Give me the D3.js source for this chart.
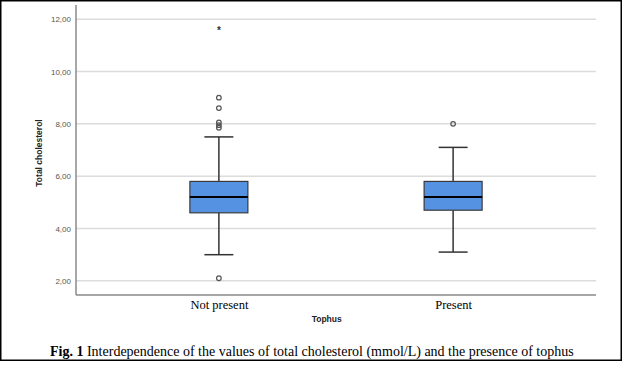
<!DOCTYPE html>
<html><head><meta charset="utf-8">
<script src="https://cdn.jsdelivr.net/npm/d3@7"></script>
<style>html,body{margin:0;padding:0;background:#fff;}</style>
</head><body>
<svg id="c" width="624" height="390"></svg>
<script>
const categories = ["Not present", "Present"];
const q1 = [4.6, 4.7];
const medians = [5.2, 5.2];
const q3 = [5.8, 5.8];
const whiskerLow = [3.0, 3.1];
const whiskerHigh = [7.5, 7.1];
const outliers = [[9.0, 8.6, 8.05, 7.95, 7.85, 2.1], [8.0]];
const extremes = [[11.6], []];
const yTicks = [2, 4, 6, 8, 10, 12];

const svg = d3.select("#c");
const L = 76, R = 596, T = 5, B = 295;
const y = d3.scaleLinear().domain([1.46, 12.54]).range([B, T]);
const x = d3.scalePoint().domain(categories).range([L, R]).padding(0.61);
const boxW = 58, capW = 29;

// outer frame
svg.append("rect").attr("x", 0.75).attr("y", 0.75).attr("width", 620.5).attr("height", 359.5)
  .attr("fill", "none").attr("stroke", "#000").attr("stroke-width", 1.5);

// gridlines
svg.append("g").selectAll("line").data(yTicks).join("line")
  .attr("x1", L).attr("x2", R).attr("y1", d => y(d)).attr("y2", d => y(d))
  .attr("stroke", "#dcdcdc").attr("stroke-width", 1.5);

// y axis
const yAxis = d3.axisLeft(y).tickValues(yTicks).tickSize(0).tickPadding(5)
  .tickFormat(d => d3.format(".2f")(d).replace(".", ","));
const ga = svg.append("g").attr("transform", `translate(${L},0)`).call(yAxis);
ga.select(".domain").remove();
ga.selectAll("text").attr("font-family", "Arial, 'Liberation Sans', sans-serif")
  .attr("font-size", 8).attr("fill", "#555");

// axis lines
svg.append("line").attr("x1", L).attr("x2", L).attr("y1", T).attr("y2", B)
  .attr("stroke", "#8a8a8a").attr("stroke-width", 1.5);
svg.append("line").attr("x1", L).attr("x2", R).attr("y1", B).attr("y2", B)
  .attr("stroke", "#8a8a8a").attr("stroke-width", 1.5);

// x axis labels
const xAxis = d3.axisBottom(x).tickSize(0).tickPadding(5);
const gx = svg.append("g").attr("transform", `translate(0,${B})`).call(xAxis);
gx.select(".domain").remove();
gx.selectAll("text").attr("font-family", "'Liberation Serif', 'Times New Roman', serif")
  .attr("font-size", 12.5).attr("fill", "#000");

// boxes
categories.forEach((c, i) => {
  const cx = x(c);
  const g = svg.append("g");
  g.append("line").attr("x1", cx).attr("x2", cx).attr("y1", y(whiskerHigh[i])).attr("y2", y(q3[i]))
    .attr("stroke", "#333").attr("stroke-width", 1.5);
  g.append("line").attr("x1", cx).attr("x2", cx).attr("y1", y(q1[i])).attr("y2", y(whiskerLow[i]))
    .attr("stroke", "#333").attr("stroke-width", 1.5);
  [whiskerHigh[i], whiskerLow[i]].forEach(v => {
    g.append("line").attr("x1", cx - capW / 2).attr("x2", cx + capW / 2).attr("y1", y(v)).attr("y2", y(v))
      .attr("stroke", "#333").attr("stroke-width", 1.5);
  });
  g.append("rect").attr("x", cx - boxW / 2).attr("y", y(q3[i])).attr("width", boxW)
    .attr("height", y(q1[i]) - y(q3[i])).attr("fill", "#5592e2").attr("stroke", "#3a3a3a").attr("stroke-width", 1.2);
  g.append("line").attr("x1", cx - boxW / 2).attr("x2", cx + boxW / 2).attr("y1", y(medians[i])).attr("y2", y(medians[i]))
    .attr("stroke", "#000").attr("stroke-width", 2);
  g.selectAll("circle").data(outliers[i]).join("circle")
    .attr("cx", cx).attr("cy", d => y(d)).attr("r", 2.3)
    .attr("fill", "none").attr("stroke", "#555").attr("stroke-width", 1.2);
  g.selectAll("text.star").data(extremes[i]).join("text").attr("class", "star")
    .attr("x", cx).attr("y", d => y(d) + 4).attr("text-anchor", "middle")
    .attr("font-family", "Arial, sans-serif").attr("font-size", 10).attr("font-weight", "bold").attr("fill", "#333").text("*");
});

// axis titles
svg.append("text").attr("x", 326.7).attr("y", 321.5).attr("text-anchor", "middle")
  .attr("font-family", "Arial, 'Liberation Sans', sans-serif").attr("font-weight", "bold")
  .attr("font-size", 8.5).attr("fill", "#222").text("Tophus");
svg.append("text").attr("transform", "translate(42,153) rotate(-90)").attr("text-anchor", "middle")
  .attr("font-family", "Arial, 'Liberation Sans', sans-serif").attr("font-weight", "bold")
  .attr("font-size", 8.5).attr("fill", "#222").text("Total cholesterol");

// caption
const cap = svg.append("text").attr("x", 50).attr("y", 355.5)
  .attr("font-family", "'Liberation Serif', 'Times New Roman', serif").attr("font-size", 14).attr("fill", "#000");
cap.append("tspan").attr("font-weight", "bold").text("Fig. 1");
cap.append("tspan").text(" Interdependence of the values of total cholesterol (mmol/L) and the presence of tophus");
</script>
</body></html>
